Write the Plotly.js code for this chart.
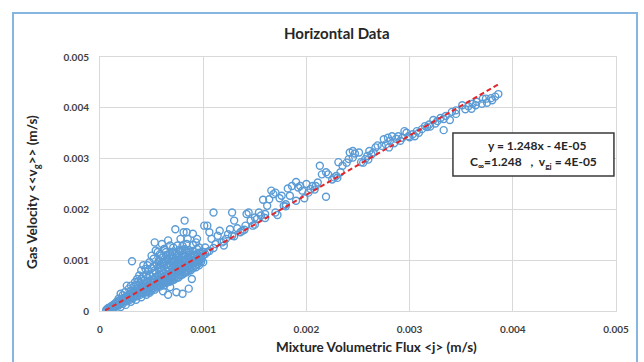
<!DOCTYPE html>
<html>
<head>
<meta charset="utf-8">
<script src="https://cdn.plot.ly/plotly-3.0.1.min.js"></script>
<style>
  html, body { margin:0; padding:0; background:#fff; }
  #wrap { position:relative; width:644px; height:362px; overflow:hidden; }
  #chart { position:absolute; left:0; top:0; width:644px; height:362px; }
  #frame { position:absolute; left:12px; top:12px; width:626px; height:360px;
           border:2px solid #86B5E0; pointer-events:none; box-sizing:border-box; }
</style>
</head>
<body>
<div id="wrap"><div id="chart"></div><div id="frame"></div></div>
<script>
// All values in units of 1e-3 m/s (converted to m/s below)
// [mixture volumetric flux <j>, gas velocity <<vg>>]
const bandPoints = [[0.06,0.02],[0.07,0.04],[0.085,0.03],[0.09,0.06],[0.105,0.05],[0.11,0.09],[0.125,0.07],[0.13,0.11],[0.145,0.09],[0.15,0.14],[0.165,0.11],[0.17,0.16],[0.185,0.13],[0.19,0.19],[0.205,0.16],[0.21,0.22],[0.225,0.18],[0.23,0.24],[0.245,0.20],[0.25,0.27],[0.265,0.23],[0.27,0.28],[0.285,0.25],[0.29,0.31],[0.305,0.27],[0.31,0.33],[0.325,0.29],[0.33,0.35],[0.345,0.31],[0.35,0.38],[0.365,0.34],[0.37,0.40],[0.385,0.36],[0.39,0.42],[0.405,0.37],[0.41,0.45],[0.425,0.40],[0.43,0.47],[0.445,0.42],[0.45,0.49],[0.465,0.44],[0.47,0.51],[0.485,0.47],[0.49,0.53],[0.505,0.49],[0.51,0.56],[0.525,0.51],[0.53,0.58],[0.545,0.53],[0.55,0.60],[0.565,0.55],[0.57,0.62],[0.585,0.57],[0.59,0.64],[0.605,0.60],[0.61,0.67],[0.625,0.62],[0.63,0.69],[0.645,0.64],[0.65,0.71],[0.665,0.66],[0.67,0.73],[0.685,0.69],[0.69,0.75],[0.705,0.71],[0.71,0.78],[0.725,0.73],[0.73,0.80],[0.745,0.75],[0.75,0.82],[0.765,0.78],[0.77,0.84],[0.785,0.80],[0.79,0.86],[0.805,0.82],[0.81,0.89],[0.825,0.85],[0.83,0.91],[0.845,0.87],[0.85,0.93],[0.865,0.89],[0.87,0.96],[0.885,0.91],[0.89,0.98],[0.905,0.94],[0.91,1.00],[0.925,0.96],[0.93,1.02],[0.945,0.98],[0.95,1.05],[0.965,1.01],[0.97,1.07],[0.985,1.03],[1.00,1.10],[1.02,1.12],[1.04,1.16],[1.06,1.18],
  [0.15,0.08],[0.18,0.11],[0.22,0.14],[0.26,0.19],[0.29,0.22],[0.32,0.25],[0.36,0.29],[0.39,0.32],[0.42,0.35],[0.44,0.37],[0.47,0.40],[0.50,0.44],[0.52,0.46],[0.54,0.48],[0.57,0.51],[0.59,0.54],[0.62,0.57],[0.64,0.59],[0.67,0.62],[0.69,0.65],[0.72,0.67],[0.74,0.70],[0.77,0.72],[0.79,0.76],[0.82,0.78],[0.84,0.81],[0.87,0.84],[0.89,0.87],[0.92,0.89],[0.95,0.93],[0.98,0.97],
  [0.18,0.20],[0.22,0.25],[0.26,0.30],[0.29,0.34],[0.32,0.38],[0.36,0.43],[0.38,0.46],[0.41,0.49],[0.44,0.53],[0.46,0.56],[0.49,0.59],[0.52,0.63],[0.54,0.66],[0.56,0.69],[0.59,0.71],[0.62,0.75],[0.64,0.78],[0.67,0.81],[0.70,0.85],[0.72,0.88],[0.75,0.90],[0.78,0.93],[0.80,0.97],[0.83,0.99],[0.86,1.03],[0.88,1.06],[0.91,1.08],[0.94,1.12],[0.97,1.14]];

const upperPoints = [[0.30,0.40],[0.33,0.48],[0.35,0.52],[0.37,0.58],[0.39,0.55],[0.40,0.63],[0.42,0.68],[0.43,0.60],[0.45,0.72],[0.46,0.65],[0.47,0.80],[0.48,0.70],[0.50,0.84],[0.51,0.75],[0.52,0.88],[0.53,0.80],[0.55,0.92],[0.56,0.85],[0.57,1.00],[0.58,0.90],[0.59,0.80],[0.60,0.95],[0.61,1.05],[0.62,0.88],[0.63,0.98],[0.64,1.10],[0.65,0.92],[0.66,1.02],[0.67,0.90],[0.68,1.12],[0.69,0.98],[0.70,1.05],[0.71,0.95],[0.72,1.15],[0.73,1.00],[0.74,1.08],[0.75,0.96],[0.76,1.12],[0.77,1.02],[0.78,1.18],[0.79,1.05],[0.80,1.10],[0.81,1.00],[0.82,1.22],[0.83,1.08],[0.84,1.15],[0.85,1.05],[0.86,1.20],[0.88,1.12],[0.90,1.18],[0.92,1.10],[0.94,1.22],[0.96,1.15],
  [1.01,1.68],[1.02,1.25],[1.00,1.16],[0.98,1.06],[0.96,1.25],[0.94,1.42],[0.92,1.09],[0.90,1.52],[0.88,0.93],[0.86,1.16],[0.84,1.55],[0.82,1.78],[0.81,1.55],[0.80,1.19],[0.78,1.42],[0.76,1.06],[0.75,1.29],[0.73,1.61],[0.72,0.90],[0.70,1.16],[0.68,1.29],[0.66,1.39],[0.65,1.03],[0.64,1.16],[0.62,1.22],[0.60,1.32],[0.59,1.09],[0.57,0.96],[0.56,1.16],[0.54,1.19],[0.53,1.35],[0.52,1.03],[0.50,1.09],[0.48,0.96],[0.46,0.90],[0.44,0.83],[0.42,0.90],[0.40,0.80],[0.38,0.70],[0.36,0.63],[0.34,0.57],[0.31,0.98],[0.30,0.50],[0.28,0.44],[0.26,0.50],[0.24,0.37],[0.22,0.31],[0.20,0.34],[0.18,0.24],[0.16,0.18],[0.14,0.14],[0.12,0.11],[0.10,0.08],[0.08,0.06],
  [0.54,0.76],[0.58,0.84],[0.62,0.95],[0.66,0.86],[0.70,0.95],[0.73,1.12],[0.77,1.20],[0.80,1.28],[0.84,1.32],[0.87,1.10],[0.90,1.30],[0.93,1.35],[0.76,1.00],[0.69,1.08],[0.63,1.20],[0.58,1.12],[0.85,1.42],[0.71,1.25]];

const lowerPoints = [[0.20,0.08],[0.25,0.12],[0.30,0.18],[0.35,0.22],[0.40,0.27],[0.45,0.32],[0.48,0.36],[0.50,0.40],[0.53,0.42],[0.55,0.46],[0.58,0.48],[0.60,0.52],[0.62,0.50],[0.64,0.55],[0.66,0.57],[0.68,0.58],[0.70,0.60],[0.72,0.62],[0.74,0.65],[0.76,0.66],[0.78,0.70],[0.80,0.72],[0.82,0.75],[0.84,0.76],[0.86,0.79],[0.88,0.80],[0.90,0.84],[0.93,0.86],[0.96,0.90],[1.00,0.96],[0.61,0.39],[0.66,0.32],[0.74,0.37],[0.80,0.34],[0.86,0.44],[0.89,0.63],[0.68,0.47],[0.46,0.37]];

const highPoints = [[3.86,4.27],[3.83,4.22],[3.79,4.19],[3.74,4.18],[3.71,4.18],[3.75,4.10],[3.64,4.05],[3.65,4.12],[3.61,4.08],[3.57,4.03],[3.54,3.97],[3.51,4.05],[3.45,3.95],[3.41,3.92],[3.39,3.76],[3.35,3.84],[3.33,3.78],[3.33,3.56],[3.30,3.80],[3.27,3.74],[3.25,3.69],[3.23,3.76],[3.19,3.67],[3.17,3.62],[3.15,3.64],[3.12,3.58],[3.09,3.51],[3.07,3.54],[3.05,3.44],[3.03,3.48],[2.99,3.44],[2.97,3.51],[2.95,3.54],[2.93,3.41],[2.91,3.35],[2.89,3.44],[2.87,3.39],[2.85,3.30],[2.83,3.44],[2.81,3.35],[2.79,3.41],[2.77,3.28],[2.75,3.38],[2.73,3.25],[2.69,3.26],[2.67,3.22],[2.65,3.12],[2.63,3.08],[2.61,3.15],[2.59,3.05],[2.57,2.99],[2.55,2.92],[2.53,2.93],[2.51,3.12],[2.47,3.10],[2.45,3.15],[2.42,3.12],[2.45,3.02],[2.41,2.99],[2.39,2.92],[2.35,2.86],[2.33,2.73],[2.31,2.93],[2.29,2.66],[2.27,2.63],[2.25,2.59],[2.21,2.69],[2.19,2.73],[2.15,2.69],[2.13,2.86],[2.19,2.25],[2.11,2.53],[2.09,2.46],[2.08,2.39],[2.06,2.46],[2.04,2.40],[2.02,2.33],[2.00,2.50],[1.98,2.22],[1.96,2.37],[1.94,2.46],[1.90,2.54],[1.92,2.43],[1.86,2.46],[1.84,2.27],[1.82,2.41],[1.80,2.10],[1.78,2.07],[1.76,2.27],[1.74,2.22],[1.72,1.89],[1.70,2.33],[1.68,2.30],[1.66,2.37],[1.64,2.20],[1.62,2.07],[1.60,1.91],[1.58,2.19],[1.56,1.88],[1.54,1.94],[1.52,1.81],[1.50,1.84],[1.48,1.68],[1.46,1.78],[1.44,1.94],[1.42,1.91],[1.41,1.68],[1.38,1.58],[1.36,1.55],[1.33,1.63],[1.30,1.78],[1.28,1.94],[1.26,1.61],[1.28,1.48],[1.24,1.51],[1.22,1.42],[1.20,1.29],[1.18,1.35],[1.16,1.58],[1.14,1.48],[1.12,1.32],[1.10,1.94],[1.08,1.42],[1.06,1.55],[1.04,1.68],
  [1.10,1.24],[1.20,1.37],[1.30,1.47],[1.40,1.60],[1.50,1.70],[1.60,1.83],[1.70,1.94],[1.80,2.06],[1.90,2.17],[2.30,2.62],[2.60,2.98],[2.80,3.22],[3.00,3.42],[3.20,3.63],[3.45,3.88],[3.60,3.98],[3.70,4.08],[3.80,4.15]];

// Trend line as drawn in the picture (same units)
const trendJ = [0.05, 3.86];
const trendVg = [0.01, 4.46];

const tickVals = [0, 0.001, 0.002, 0.003, 0.004, 0.005];
const tickText = ['0', '0.001', '0.002', '0.003', '0.004', '0.005'];

const UNIT = 1e-3;
const allPoints = bandPoints.concat(upperPoints, lowerPoints, highPoints);
const xs = allPoints.map(p => p[0] * UNIT);
const ys = allPoints.map(p => p[1] * UNIT);

const scatter = {
  type: 'scatter', mode: 'markers', x: xs, y: ys,
  marker: { symbol: 'circle-open', size: 7, color: '#5B9BD5', line: { width: 1.4, color: '#5B9BD5' } },
  hoverinfo: 'none'
};
const trend = {
  type: 'scatter', mode: 'lines',
  x: trendJ.map(v => v * UNIT), y: trendVg.map(v => v * UNIT),
  line: { color: '#E3262B', width: 2, dash: '5px,3px' },
  hoverinfo: 'none'
};

const FAM = 'Lato, "Open Sans", sans-serif';
const tickFont = { family: FAM, size: 10, color: '#404040', weight: 'bold' };
const axisCommon = {
  range: [0, 0.005], tickvals: tickVals, ticktext: tickText,
  showgrid: true, gridcolor: '#D9D9D9', gridwidth: 1,
  zeroline: false, showline: true, mirror: true, linecolor: '#D9D9D9', linewidth: 1,
  ticks: '', tickfont: tickFont, fixedrange: true
};

const fontTitle = { family: FAM, color: '#262626', weight: 'bold' };

const layout = {
  width: 644, height: 362,
  margin: { l: 100, r: 28, t: 57, b: 51, pad: 0 },
  paper_bgcolor: '#ffffff', plot_bgcolor: '#ffffff',
  showlegend: false,
  xaxis: Object.assign({}, axisCommon, { ticklabelstandoff: 9 }),
  yaxis: Object.assign({}, axisCommon, { ticklabelstandoff: 8 }),
  shapes: [{
    type: 'rect', xref: 'paper', yref: 'paper',
    x0: 0.684, x1: 0.996, y0: 0.5315, y1: 0.7008,
    line: { color: '#3A3A3A', width: 1.5 }, fillcolor: '#ffffff', layer: 'above'
  }],
  annotations: [
    { text: 'Horizontal Data', xref: 'paper', yref: 'paper', x: 0.459, y: 1.0945,
      xanchor: 'center', yanchor: 'middle', showarrow: false,
      font: Object.assign({}, fontTitle, { size: 15 }) },
    { text: 'Mixture Volumetric Flux &lt;j&gt; (m/s)', xref: 'paper', yref: 'paper', x: 0.535, y: -0.1417,
      xanchor: 'center', yanchor: 'middle', showarrow: false,
      font: Object.assign({}, fontTitle, { size: 13.5 }) },
    { text: 'Gas Velocity &lt;&lt;v<sub>g</sub>&gt;&gt; (m/s)', xref: 'paper', yref: 'paper', x: -0.1298, y: 0.4685,
      xanchor: 'center', yanchor: 'middle', showarrow: false, textangle: -90,
      font: Object.assign({}, fontTitle, { size: 13.5 }) },
    { text: 'y = 1.248x - 4E-05', xref: 'paper', yref: 'paper', x: 0.847, y: 0.6535,
      xanchor: 'center', yanchor: 'middle', showarrow: false,
      font: { family: FAM, size: 12, color: '#262626', weight: 'bold' } },
    { text: 'C<sub>\u221E</sub>=1.248\u00A0\u00A0\u00A0,\u00A0\u00A0v<sub>gj</sub> = 4E-05', xref: 'paper', yref: 'paper', x: 0.841, y: 0.5866,
      xanchor: 'center', yanchor: 'middle', showarrow: false,
      font: { family: FAM, size: 12, color: '#262626', weight: 'bold' } }
  ]
};

Plotly.newPlot('chart', [scatter, trend], layout, { displayModeBar: false, staticPlot: true });
</script>
</body>
</html>
